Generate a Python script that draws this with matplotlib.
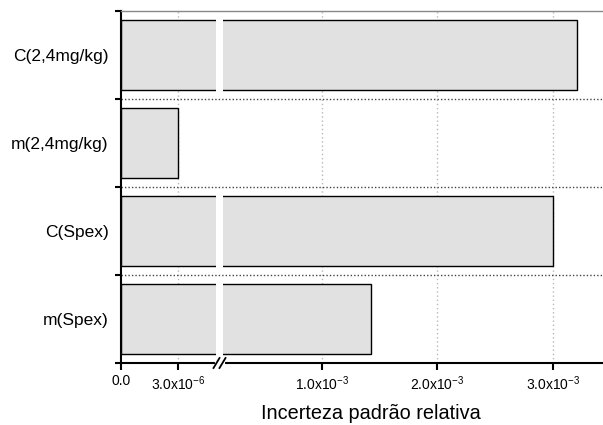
import numpy as np
import matplotlib
matplotlib.use("Agg")
import matplotlib.pyplot as plt

plt.rcParams['font.family'] = ['Liberation Sans', 'DejaVu Sans']
plt.rcParams['mathtext.fontset'] = 'custom'
plt.rcParams['mathtext.rm'] = 'Liberation Sans'
plt.rcParams['mathtext.default'] = 'regular'

# data (bottom to top)
categories = ["m(Spex)", "C(Spex)", "m(2,4mg/kg)", "C(2,4mg/kg)"]
values = [1.43e-3, 3.0e-3, 3.0e-6, 3.21e-3]
tick_vals = [0.0, 3.0e-6, 1.0e-3, 2.0e-3, 3.0e-3]
tick_labels = ["0.0", r"3.0x10$^{-6}$", r"1.0x10$^{-3}$", r"2.0x10$^{-3}$", r"3.0x10$^{-3}$"]

# broken axis: 0..L shown on the left, R..xmax on the right
L = 5e-6
R = 1.45e-4
xmax = 3.435e-3
w_left, w_gap, w_tot = 95.0, 7.0, 482.0
k = 115500.0


def fwd(x):
    x = np.asarray(x, float)
    a = x / L * w_left
    b = w_left + (x - L) / (R - L) * w_gap
    c = w_left + w_gap + (x - R) * k
    return np.where(x <= L, a, np.where(x >= R, c, b))


def inv(u):
    u = np.asarray(u, float)
    a = u / w_left * L
    b = L + (u - w_left) / w_gap * (R - L)
    c = R + (u - w_left - w_gap) / k
    return np.where(u <= w_left, a, np.where(u >= w_left + w_gap, c, b))


fig = plt.figure(figsize=(6.03, 4.25), dpi=100)
ax = fig.add_axes([121 / 603, 1 - 363 / 425, w_tot / 603, 352 / 425])
ax.set_xscale('function', functions=(fwd, inv))

y = np.arange(len(categories))
ax.barh(y, values, height=0.8, color='#e1e1e1', edgecolor='black', linewidth=1.0, zorder=1)

# white gap through the bars at the break
ax.axvspan(L, R, color='white', zorder=1.5, lw=0)

# grid lines (vertical behind the bars)
for v in tick_vals[1:]:
    ax.axvline(v, color='#b8b8b8', linestyle=(0, (1, 2)), linewidth=1, zorder=0.5)
for s in [0.5, 1.5, 2.5]:
    ax.axhline(s, color='#444444', linestyle=(0, (1, 1.5)), linewidth=1, zorder=2)

ax.set_xlim(0, xmax)
ax.set_ylim(-0.5, 3.5)

ax.set_xticks(tick_vals)
ax.set_xticklabels(tick_labels, fontsize=10)
ax.xaxis.set_minor_locator(matplotlib.ticker.NullLocator())
ax.tick_params(axis='x', direction='out', length=5, width=1.5, pad=3)

ax.set_yticks([-0.5, 0.5, 1.5, 2.5, 3.5])
ax.set_yticklabels([])
ax.set_yticks(y, minor=True)
ax.set_yticklabels(categories, minor=True, fontsize=12.5)
ax.tick_params(axis='y', which='major', direction='out', length=4, width=1.5)
ax.tick_params(axis='y', which='minor', length=0, pad=9)

ax.spines['right'].set_visible(False)
ax.spines['left'].set_linewidth(1.5)
ax.spines['bottom'].set_linewidth(1.5)
ax.spines['top'].set_color('#888888')
ax.spines['top'].set_linewidth(1)

# break marks on the x axis (axes fraction, pixel offsets)
px, py = 1 / w_tot, 1 / 352.0
xc = (w_left + w_gap / 2) / w_tot
ax.plot([xc - 3 * px, xc + 3 * px], [0, 0], transform=ax.transAxes,
        color='white', lw=3, clip_on=False, zorder=5)
for dx in (-3, 3):
    ax.plot([xc + (dx - 3) * px, xc + (dx + 3) * px], [-5 * py, 5 * py],
            transform=ax.transAxes, color='black', lw=1.3, clip_on=False, zorder=6)

ax.set_xlabel("Incerteza padrão relativa", fontsize=14.3, labelpad=8)
ax.xaxis.label.set_x((371 - 121) / w_tot)

fig.savefig("out.png", dpi=100)
